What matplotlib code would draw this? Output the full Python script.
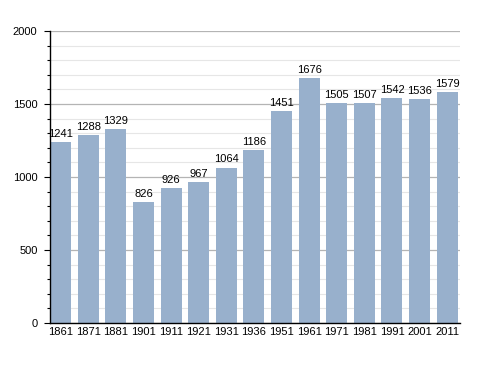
import matplotlib
matplotlib.use('Agg')
import matplotlib.pyplot as plt
from matplotlib.ticker import MultipleLocator

plt.rcParams['font.family'] = ['Liberation Sans', 'DejaVu Sans']

# recensements
annees = ['1861', '1871', '1881', '1901', '1911', '1921', '1931', '1936',
          '1951', '1961', '1971', '1981', '1991', '2001', '2011']
population = [1241, 1288, 1329, 826, 926, 967, 1064, 1186,
              1451, 1676, 1505, 1507, 1542, 1536, 1579]

fig = plt.figure(figsize=(4.88, 3.73), dpi=100)
ax = fig.add_axes([0.1025, 0.134, 0.840, 0.783])

x = range(len(annees))
bars = ax.bar(x, population, width=0.76, color='#98b0cc', zorder=2)

# etiquettes au dessus des barres
for xi, v in zip(x, population):
    ax.text(xi, v + 22, str(v), ha='center', va='bottom', fontsize=8, color='black')

ax.set_ylim(0, 2000)
ax.set_xlim(-0.38, 14.46)
ax.set_xticks(list(x))
ax.set_xticklabels(annees)
ax.yaxis.set_major_locator(MultipleLocator(500))
ax.yaxis.set_minor_locator(MultipleLocator(100))

ax.grid(axis='y', which='major', color='#b4b4b4', linewidth=0.9, zorder=0)
ax.grid(axis='y', which='minor', color='#e6e6e6', linewidth=0.8, zorder=0)

ax.spines['top'].set_visible(False)
ax.spines['right'].set_visible(False)
ax.spines['left'].set_linewidth(1.0)
ax.spines['bottom'].set_linewidth(1.0)

ax.tick_params(axis='x', length=0, pad=3, labelsize=8)
ax.tick_params(axis='y', which='major', length=4, width=0.8, direction='out', labelsize=8, pad=5)
ax.tick_params(axis='y', which='minor', length=2, width=0.8, direction='out')

fig.savefig('out.png', dpi=100)
